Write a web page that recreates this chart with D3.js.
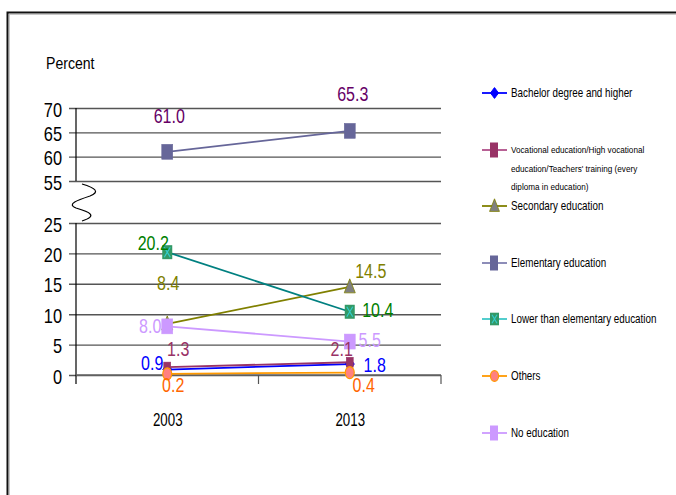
<!DOCTYPE html>
<html><head><meta charset="utf-8">
<script src="https://cdn.jsdelivr.net/npm/d3@7"></script>
<style>
body{margin:0;background:#fff;}
svg{display:block;}
text{font-family:"Liberation Sans",Arial,sans-serif;}
</style></head>
<body>
<svg id="c" width="676" height="495"></svg>
<script>
// ---- data ----
const categories = ["2003", "2013"];
const seriesNames = [
  "Bachelor degree and higher",
  "Vocational education/High vocational education/Teachers' training (every diploma in education)",
  "Secondary education",
  "Elementary education",
  "Lower than elementary education",
  "Others",
  "No education"
];
const bachelor   = [0.9, 1.8];
const vocational = [1.3, 2.1];
const secondary  = [8.4, 14.5];
const elementary = [61.0, 65.3];
const lowerElem  = [20.2, 10.4];
const others     = [0.2, 0.4];
const noEdu      = [8.0, 5.5];
const upperTicks = [55, 60, 65, 70];
const lowerTicks = [0, 5, 10, 15, 20, 25];
const yTitle = "Percent";

// ---- styles (not data) ----
const styles = [
  {line:"#0000FF", legLine:"#0000FF", marker:"diamond", fill:"#0000FF", stroke:"#0000FF", label:"#0000FF", off:[[-15,-7],[25,1]]},
  {line:"#993366", legLine:"#B0508A", marker:"square",  fill:"#993366", stroke:"#993366", label:"#993366", off:[[11,-18],[-8,-13]], small:true},
  {line:"#808000", legLine:"#808000", marker:"triangle",fill:"#808080", stroke:"#808000", label:"#808000", off:[[1,-41],[21,-16]]},
  {line:"#666699", legLine:"#8080B0", marker:"square",  fill:"#666699", stroke:"#666699", label:"#660066", off:[[2,-36],[3,-37]]},
  {line:"#008080", legLine:"#40C8C8", marker:"xsquare", fill:"#339966", stroke:"#33CCCC", label:"#008000", off:[[-14,-9],[28,-2]]},
  {line:"#FF9900", legLine:"#FF9900", marker:"circle",  fill:"#FF8080", stroke:"#FF9900", label:"#FF6600", off:[[6,11],[14,12]]},
  {line:"#CC99FF", legLine:"#CC99FF", marker:"square",  fill:"#CC99FF", stroke:"#CC99FF", label:"#CC99FF", off:[[-17,-1],[20,-2]]}
];
const allValues = [bachelor, vocational, secondary, elementary, lowerElem, others, noEdu];

const svg = d3.select("#c");

// narrow text helper: horizontal squeeze around the anchor point
function squeeze(sel, k){
  sel.each(function(){
    const t = d3.select(this);
    const tx = +t.attr("x") || 0, ty = +t.attr("y") || 0;
    t.attr("x",0).attr("y",0).attr("transform",`translate(${tx},${ty}) scale(${k},1)`);
  });
}

// outer frame
svg.append("rect").attr("x",7.5).attr("y",12.5).attr("width",700).attr("height",500)
  .attr("fill","none").attr("stroke","#111").attr("stroke-width",2);
svg.append("rect").attr("x",9.5).attr("y",14.5).attr("width",700).attr("height",500)
  .attr("fill","none").attr("stroke","#bbb").attr("stroke-width",0.8);

const xLeft = 76, xRight = 441;
const x = d3.scalePoint().domain(categories).range([xLeft, xRight]).padding(0.5);
const yTop = d3.scaleLinear().domain([55,70]).range([181,108]);
const yBot = d3.scaleLinear().domain([0,25]).range([375,223]);
const y = v => v >= 55 ? yTop(v) : yBot(v);

// gridlines + axis labels
function drawAxis(scale, ticks){
  const g = svg.append("g").attr("transform",`translate(${xLeft},0)`)
    .call(d3.axisLeft(scale).tickValues(ticks).tickSize(0).tickPadding(14));
  g.select(".domain").remove();
  g.selectAll("text").attr("font-size",20).attr("fill","#000").attr("dy","0.4em").call(squeeze,0.82);
  g.selectAll(".tick").append("line").attr("x1",-7).attr("x2",xRight-xLeft)
    .attr("stroke","#555").attr("stroke-width",1.4);
  return g;
}
drawAxis(yTop, upperTicks);
drawAxis(yBot, lowerTicks);

// y axis line segments
svg.append("line").attr("x1",xLeft).attr("x2",xLeft).attr("y1",yTop(70)).attr("y2",yTop(55))
  .attr("stroke","#000").attr("stroke-width",1.2);
svg.append("line").attr("x1",xLeft).attr("x2",xLeft).attr("y1",yBot(25)).attr("y2",yBot(0)+9)
  .attr("stroke","#000").attr("stroke-width",1.2);
// x axis line and ticks
svg.append("line").attr("x1",xLeft).attr("x2",xRight).attr("y1",yBot(0)).attr("y2",yBot(0))
  .attr("stroke","#666").attr("stroke-width",1.4);
const bw = x.step();
[xLeft + bw, xRight].forEach(t=>{
  svg.append("line").attr("x1",t).attr("x2",t).attr("y1",yBot(0)).attr("y2",yBot(0)+9)
    .attr("stroke","#555").attr("stroke-width",1.2);
});
const xg = svg.append("g").attr("transform",`translate(0,${yBot(0)})`)
  .call(d3.axisBottom(x).tickSize(0).tickPadding(51));
xg.select(".domain").remove();
xg.selectAll("text").attr("font-size",18).attr("fill","#000").attr("dy","0").call(squeeze,0.74);

// break symbol
svg.append("path")
  .attr("d","M82,184 C96,188 100,192 90,196 C78,200 66,204 76,208 C90,212 98,216 82,221")
  .attr("fill","none").attr("stroke","#000").attr("stroke-width",1.2);

// title
svg.append("text").attr("x",46).attr("y",69).attr("font-size",16).text(yTitle).call(squeeze,0.88);

// marker drawing
function marker(g, type, cx, cy, st, scale){
  const s = scale || 1;
  if(type==="diamond"){
    g.append("path").attr("d",`M${cx},${cy-6*s} L${cx+4.5*s},${cy} L${cx},${cy+6*s} L${cx-4.5*s},${cy} Z`)
      .attr("fill",st.fill).attr("stroke",st.stroke);
  } else if(type==="square"){
    const w = (st.small?7:11)*s, h = (st.small?10:15)*s;
    g.append("rect").attr("x",cx-w/2).attr("y",cy-h/2).attr("width",w).attr("height",h)
      .attr("fill",st.fill).attr("stroke",st.stroke).attr("stroke-width",0.5);
  } else if(type==="triangle"){
    g.append("path").attr("d",`M${cx},${cy-8*s} L${cx+5.5*s},${cy+6*s} L${cx-5.5*s},${cy+6*s} Z`)
      .attr("fill",st.fill).attr("stroke",st.stroke).attr("stroke-width",0.8);
  } else if(type==="xsquare"){
    const w = 10*s, h = 14*s;
    g.append("rect").attr("x",cx-w/2).attr("y",cy-h/2).attr("width",w).attr("height",h)
      .attr("fill",st.fill);
    g.append("path").attr("d",`M${cx-w/2+2},${cy-h/2+2} L${cx+w/2-2},${cy+h/2-2} M${cx+w/2-2},${cy-h/2+2} L${cx-w/2+2},${cy+h/2-2}`)
      .attr("stroke",st.stroke).attr("stroke-width",1.2);
  } else if(type==="circle"){
    g.append("ellipse").attr("cx",cx).attr("cy",cy).attr("rx",4.5*s).attr("ry",6*s)
      .attr("fill",st.fill).attr("stroke",st.stroke).attr("stroke-width",1.2);
  }
}

// series
const line = d3.line().x((d,i)=>x(categories[i])).y(d=>y(d));
allValues.forEach((vals,k)=>{
  const st = styles[k];
  const g = svg.append("g");
  g.append("path").attr("d",line(vals)).attr("fill","none").attr("stroke",st.line).attr("stroke-width",1.8);
  vals.forEach((v,i)=> marker(g, st.marker, x(categories[i]), y(v), st));
});
// labels
allValues.forEach((vals,k)=>{
  const st = styles[k];
  vals.forEach((v,i)=>{
    svg.append("text").attr("x",x(categories[i])+st.off[i][0]).attr("y",y(v)+st.off[i][1])
      .attr("dy","0.36em").attr("text-anchor","middle").attr("font-size",20)
      .attr("fill",st.label).text(d3.format(".1f")(v)).call(squeeze,0.8);
  });
});

// legend
const legY = [93, 150, 206, 263, 319, 376, 433];
seriesNames.forEach((name,k)=>{
  const st = styles[k];
  const g = svg.append("g");
  const cy = legY[k];
  g.append("line").attr("x1",482).attr("x2",507).attr("y1",cy).attr("y2",cy).attr("stroke",st.legLine).attr("stroke-width",1.8);
  const lst = Object.assign({}, st, {small:false});
  if(st.marker==="square") {
    g.append("rect").attr("x",490).attr("y",cy-7.5).attr("width",8).attr("height",15).attr("fill",st.fill);
  } else marker(g, st.marker, 494.5, cy, lst, 0.9);
  if(k===1){
    const lines = ["Vocational education/High vocational","education/Teachers' training (every","diploma in education)"];
    lines.forEach((t,j)=> g.append("text").attr("x",511).attr("y",cy+j*18.5).attr("dy","0.35em")
      .attr("font-size",9.5).attr("fill","#000").text(t).call(squeeze,0.86));
  } else {
    g.append("text").attr("x",511).attr("y",cy).attr("dy","0.35em").attr("font-size",12)
      .attr("fill","#000").text(name).call(squeeze,0.82);
  }
});
</script>
</body></html>
